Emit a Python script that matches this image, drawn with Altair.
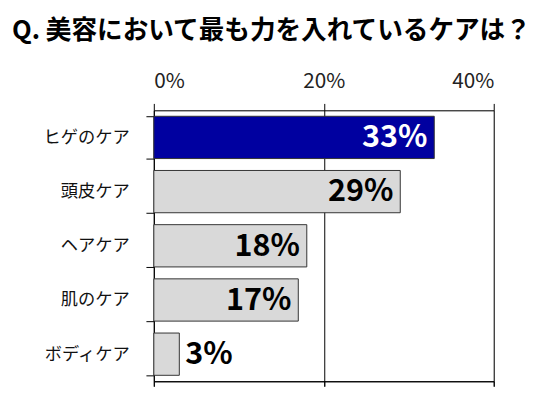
import altair as alt
import pandas as pd

categories = ["ヒゲのケア", "頭皮ケア", "ヘアケア", "肌のケア", "ボディケア"]
values = [33, 29, 18, 17, 3]
labels = ["33%", "29%", "18%", "17%", "3%"]
highlight = [True, False, False, False, False]
tick_values = [0, 20, 40]
title_text = "Q. 美容において最も力を入れているケアは？"

df = pd.DataFrame({"cat": categories, "value": values, "label": labels, "hl": highlight})

FONT = "Noto Sans CJK JP"

y_axis = alt.Axis(
    title=None,
    orient="left",
    tickBand="extent",
    tickSize=8,
    tickColor="black",
    domainColor="black",
    labelFont=FONT,
    labelFontSize=17.5,
    labelColor="#111111",
    labelPadding=17,
    grid=False,
)
y_scale = alt.Scale(paddingInner=0.22, paddingOuter=0.11)

x_scale = alt.Scale(domain=[0, 40], nice=False)

x_top = alt.Axis(
    orient="top",
    title=None,
    values=tick_values,
    labelExpr="datum.value + '%'",
    tickSize=7,
    tickColor="black",
    labelPadding=12,
    labelFont=FONT,
    labelFontSize=21,
    labelColor="#222222",
    domain=True,
    domainColor="black",
    grid=True,
    gridColor="black",
    gridOpacity=1,
    gridWidth=1,
)

x_bottom = alt.Axis(
    orient="bottom",
    title=None,
    values=tick_values,
    labels=False,
    tickSize=5,
    tickColor="black",
    domain=True,
    domainColor="black",
    grid=False,
)

bars = alt.Chart(df).mark_bar(stroke="#333333", strokeWidth=1).encode(
    x=alt.X("value:Q", scale=x_scale, axis=x_top),
    y=alt.Y("cat:N", sort=categories, scale=y_scale, axis=y_axis),
    color=alt.condition("datum.hl", alt.value("#0000A0"), alt.value("#D9D9D9")),
)

inside = alt.Chart(df).transform_filter("datum.value >= 10").mark_text(
    align="right", baseline="middle", dx=-7, dy=1, font=FONT, fontSize=31, fontWeight="bold"
).encode(
    x=alt.X("value:Q", scale=x_scale, axis=x_bottom),
    y=alt.Y("cat:N", sort=categories, scale=y_scale, axis=y_axis),
    text="label:N",
    color=alt.condition("datum.hl", alt.value("white"), alt.value("black")),
)

outside = alt.Chart(df).transform_filter("datum.value < 10").mark_text(
    align="left", baseline="middle", dx=6, dy=1, font=FONT, fontSize=31, fontWeight="bold", color="black"
).encode(
    x=alt.X("value:Q", scale=x_scale, axis=x_bottom),
    y=alt.Y("cat:N", sort=categories, scale=y_scale, axis=y_axis),
    text="label:N",
)

chart = alt.layer(bars, inside, outside).properties(
    width=345,
    height=275,
    autosize=alt.AutoSizeParams(type="none"),
    padding={"left": 148, "top": 101, "right": 50, "bottom": 5},
    title=alt.TitleParams(
        text=title_text,
        anchor="start",
        frame="group",
        dx=-144,
        offset=27,
        font=FONT,
        fontSize=26,
        fontWeight="bold",
        color="black",
    ),
).configure_view(stroke="black", strokeWidth=1).configure(background="white")

chart.save("out.html", embed_options={"renderer": "svg", "actions": False})
